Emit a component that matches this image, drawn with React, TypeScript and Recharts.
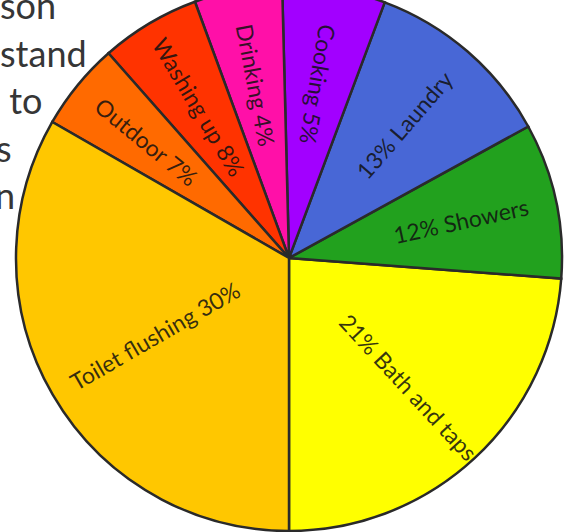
import React from 'react';
import { PieChart, Pie, Cell } from 'recharts';

// Slices in drawing order (counter-clockwise from 6 o'clock)
const categories = ['Bath and taps', 'Showers', 'Laundry', 'Cooking', 'Drinking', 'Washing up', 'Outdoor', 'Toilet flushing'];
// Percentages printed on the labels
const statedPercent = [21, 12, 13, 5, 4, 8, 7, 30];
// Share of the circle each slice actually occupies in the picture
const drawnShare = [23.8, 9.2, 11.3, 6.1, 5.2, 5.9, 5.2, 33.3];
// Whether the label puts the percentage first
const percentFirst = [true, true, true, false, false, false, false, false];
const colors = ['#FFFF00', '#22A11E', '#4867D6', '#A200FF', '#FF10A8', '#FF3300', '#FF6A00', '#FFC700'];

// Partial background text lines to the left of the pie
const backgroundLines = ['son', 'stand', ' to', 's', 'n'];
const backgroundShift = [0, 0, 0, -4, -5];

const data = categories.map((name, i) => ({
  name,
  value: drawnShare[i],
  label: percentFirst[i] ? `${statedPercent[i]}% ${name}` : `${name} ${statedPercent[i]}%`,
}));

const RAD = Math.PI / 180;

const renderLabel = (props: any) => {
  const { cx, cy, midAngle, index } = props;
  const m = ((midAngle % 360) + 360) % 360;
  const r = index === 7 ? 155 : index === 6 ? 184 : 176;
  const x = cx + r * Math.cos(-m * RAD);
  const y = cy + r * Math.sin(-m * RAD);
  const inward = m > 75 && m < 255;
  const rot = inward ? 180 - m : -m;
  return (
    <text
      key={`lbl-${index}`}
      x={x}
      y={y}
      textAnchor="middle"
      dominantBaseline="central"
      transform={`rotate(${rot}, ${x}, ${y})`}
      fontFamily="Lato, sans-serif"
      fontSize={23}
      fill="#111"
      fillOpacity={0.85}
    >
      {data[index].label}
    </text>
  );
};

export default function App() {
  return (
    <div style={{ position: 'absolute', left: 0, top: 0, width: 567, height: 532, background: '#fff', overflow: 'hidden' }}>
      <svg width={567} height={532} style={{ position: 'absolute', left: 0, top: 0 }}>
        {backgroundLines.map((t, i) => (
          <text
            key={i}
            x={backgroundShift[i]}
            y={19 + i * 47.5}
            fontFamily="Lato, sans-serif"
            fontSize={36}
            fill="#363636"
            style={{ whiteSpace: 'pre' }}
          >
            {t}
          </text>
        ))}
      </svg>
      <div style={{ position: 'absolute', left: 0, top: 0 }}>
        <PieChart width={567} height={532} margin={{ top: 0, right: 0, bottom: 0, left: 0 }}>
          <Pie
            data={data}
            dataKey="value"
            nameKey="name"
            cx={289}
            cy={258}
            outerRadius={273}
            startAngle={-90}
            endAngle={270}
            stroke="#2a2a2a"
            strokeWidth={2.5}
            label={renderLabel}
            labelLine={false}
            isAnimationActive={false}
          >
            {data.map((d, i) => (
              <Cell key={d.name} fill={colors[i]} stroke="#2a2a2a" strokeWidth={2.5} />
            ))}
          </Pie>
        </PieChart>
      </div>
    </div>
  );
}
